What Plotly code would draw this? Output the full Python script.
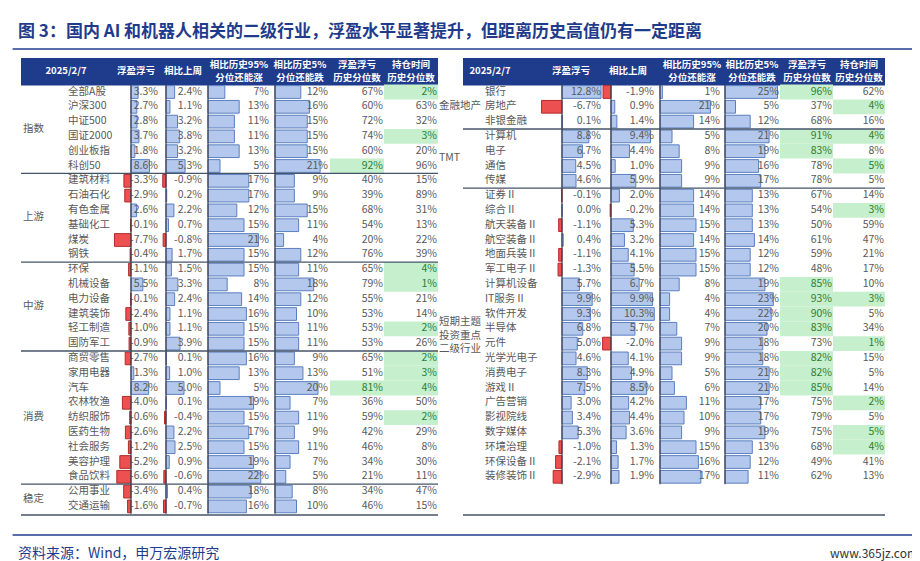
import plotly.graph_objects as go

W, H = 920, 561
ROW0, ROWH = 84, 14.8  # pixel y of first row, row height
FONT = "Noto Sans CJK SC"
NAVY = "#1f3c8c"
TXT = "#595959"

# ---------------- data ----------------
left_groups = [("指数", 6), ("上游", 6), ("中游", 6), ("消费", 9), ("稳定", 2)]
left_names = ["全部A股", "沪深300", "中证500", "国证2000", "创业板指", "科创50",
              "建筑材料", "石油石化", "有色金属", "基础化工", "煤炭", "钢铁",
              "环保", "机械设备", "电力设备", "建筑装饰", "轻工制造", "国防军工",
              "商贸零售", "家用电器", "汽车", "农林牧渔", "纺织服饰", "医药生物",
              "社会服务", "美容护理", "食品饮料", "公用事业", "交通运输"]
left_fy = [3.3, 2.7, 2.8, 3.7, 1.8, 8.6, -3.3, -2.9, 2.6, -0.1, -7.7, -0.4,
           -1.1, 5.5, -0.1, -2.4, -1.0, -0.9, -2.7, 1.3, 8.2, -4.0, -0.6, -2.6,
           -1.2, -5.2, -6.6, -3.4, -1.6]
left_wk = [2.4, 1.1, 3.2, 3.8, 3.2, 5.3, -0.9, 0.2, 2.2, 0.7, -0.8, 1.7,
           1.5, 3.3, 2.4, 1.1, 1.1, 3.9, 0.1, 1.0, 5.0, 0.1, -0.4, 2.2,
           2.5, 0.9, -0.6, 0.4, -0.7]
left_up = [7, 13, 11, 11, 13, 5, 17, 17, 12, 15, 21, 15, 15, 8, 14, 16, 15, 15,
           16, 13, 5, 19, 15, 17, 15, 19, 22, 18, 16]
left_dn = [12, 16, 15, 15, 15, 21, 9, 9, 15, 11, 4, 12, 11, 18, 12, 10, 11, 11,
           9, 13, 20, 7, 11, 9, 11, 7, 5, 8, 10]
left_fpct = [67, 60, 72, 74, 60, 92, 40, 39, 68, 54, 20, 76, 65, 79, 55, 53, 53, 53,
             65, 51, 81, 36, 59, 42, 46, 34, 21, 34, 46]
left_hpct = [2, 63, 32, 3, 20, 96, 15, 89, 31, 13, 22, 39, 4, 1, 21, 14, 2, 26,
             2, 3, 4, 50, 2, 29, 8, 30, 11, 47, 15]
left_hflag = [1, 0, 0, 1, 0, 0, 0, 0, 0, 0, 0, 0, 1, 1, 0, 0, 1, 0,
              1, 1, 1, 0, 1, 0, 0, 0, 0, 0, 0]

right_groups = [("金融地产", 3), ("TMT", 4), ("短期主题<br>投资重点<br>二级行业", 20)]
right_names = ["银行", "房地产", "非银金融", "计算机", "电子", "通信", "传媒",
               "证券Ⅱ", "综合Ⅱ", "航天装备Ⅱ", "航空装备Ⅱ", "地面兵装Ⅱ", "军工电子Ⅱ",
               "计算机设备", "IT服务Ⅱ", "软件开发", "半导体", "元件", "光学光电子",
               "消费电子", "游戏Ⅱ", "广告营销", "影视院线", "数字媒体", "环境治理",
               "环保设备Ⅱ", "装修装饰Ⅱ"]
right_fy = [12.8, -6.7, 0.1, 8.8, 6.7, 4.5, 4.6, -0.1, 0.0, -1.1, 0.4, -1.1, -1.3,
            5.7, 9.9, 9.3, 6.8, 5.0, 4.6, 8.3, 7.5, 3.0, 3.4, 5.3, -1.0, -2.1, -2.9]
right_wk = [-1.9, 0.9, 1.4, 9.4, 4.4, 1.0, 5.9, 2.0, -0.2, 5.3, 3.2, 4.1, 5.5,
            6.7, 9.9, 10.3, 5.7, -2.0, 4.1, 4.9, 8.5, 4.2, 4.4, 3.6, 1.3, 1.7, 1.9]
right_up = [1, 21, 14, 5, 8, 9, 9, 14, 14, 15, 14, 15, 15, 8, 4, 4, 7, 9, 9, 5, 6,
            11, 10, 9, 15, 16, 17]
right_dn = [25, 5, 12, 21, 19, 16, 17, 13, 13, 13, 14, 12, 12, 19, 23, 22, 20, 18,
            18, 21, 21, 17, 17, 19, 13, 12, 11]
right_fpct = [96, 37, 68, 91, 83, 78, 78, 67, 54, 50, 61, 59, 48, 85, 93, 90, 83, 73,
              82, 82, 85, 75, 79, 75, 68, 49, 62]
right_hpct = [62, 4, 16, 4, 8, 5, 5, 14, 3, 59, 47, 21, 17, 10, 3, 5, 34, 1, 15, 5,
              14, 2, 5, 5, 4, 41, 13]
right_hflag = [0, 1, 0, 1, 0, 1, 0, 0, 1, 0, 0, 0, 0, 0, 1, 0, 0, 1, 0, 0, 0,
               1, 0, 1, 1, 0, 0]

headers = ["2025/2/7", "浮盈浮亏", "相比上周", "相比历史95%<br>分位还能涨",
           "相比历史5%<br>分位还能跌", "浮盈浮亏<br>历史分位数", "持仓时间<br>历史分位数"]

# ---------------- layout geometry (pixels) ----------------
tables = [
    dict(names=left_names, groups=left_groups, fy=left_fy, wk=left_wk, up=left_up,
         dn=left_dn, fpct=left_fpct, hpct=left_hpct, hflag=left_hflag,
         x0=13, x1=430, gx=15, nx=60,
         zero=[123, 158, 200, 267], scale=[2.15, 3.6, 2.4, 2.15],
         tend=[150, 194, 261, 320], cells=[(322, 376), (376, 430)],
         hdr=[58, 128, 175, 231, 292, 349, 403]),
    dict(names=right_names, groups=right_groups, fy=right_fy, wk=right_wk, up=right_up,
         dn=right_dn, fpct=right_fpct, hpct=right_hpct, hflag=right_hflag,
         x0=455, x1=877, gx=431, nx=477,
         zero=[554, 603, 652, 717], scale=[3.05, 4.2, 2.4, 2.1],
         tend=[593, 646, 712, 771], cells=[(772, 825), (825, 877)],
         hdr=[482, 563, 620, 684, 744, 799, 851]),
]

fig = go.Figure()
layout_axes = {}
ax_count = [1]
text_traces = []


def new_axis(zero_px, px_per_unit):
    ax_count[0] += 1
    n = ax_count[0]
    layout_axes[f"xaxis{n}"] = dict(
        range=[-zero_px / px_per_unit, (W - zero_px) / px_per_unit],
        domain=[0, 1], overlaying="x", anchor="y", visible=False, fixedrange=True)
    return f"x{n}"


def ypx(p):
    return (p - ROW0) / ROWH


def txt(x, y, s, color=TXT, pos="middle left", size=10.5, bold=False):
    text_traces.append(dict(
        x=x, y=y, text=[f"<b>{v}</b>" if bold else v for v in s], mode="text",
        textposition=pos, textfont=dict(family=FONT, size=size, color=color),
        hoverinfo="skip", yaxis="y", showlegend=False, cliponaxis=False))


shapes = []
for t in tables:
    n = len(t["names"])
    rows = list(range(n))
    # header band
    shapes.append(dict(type="rect", xref="x", yref="y", x0=t["x0"], x1=t["x1"],
                       y0=ypx(50), y1=ypx(77.5), fillcolor=NAVY, line_width=0, layer="below"))
    txt(t["hdr"], [ypx(64)] * 7, headers, color="white", pos="middle center",
        size=9.5, bold=True)
    # group labels and separators
    start = 0
    for g, cnt in t["groups"]:
        txt([t["gx"]], [start + (cnt - 1) / 2], [g], pos="middle right", size=10.5)
        start += cnt
        sep = start - 0.5 if start < n else ypx(507)
        shapes.append(dict(type="line", xref="x", yref="y", x0=t["x0"], x1=t["x1"],
                           y0=sep, y1=sep, line=dict(color="#44546a", width=1.3)))
    txt([t["nx"]] * n, rows, t["names"], pos="middle right")

    # bar columns
    for key, z, s, te in zip(["fy", "wk", "up", "dn"], t["zero"], t["scale"], t["tend"]):
        ax = new_axis(z, s)
        vals = t[key]
        fig.add_trace(go.Bar(
            x=vals, y=rows, orientation="h", width=0.86, xaxis=ax, yaxis="y",
            marker=dict(color=["#ec5050" if v < 0 else "#b3c8ec" for v in vals],
                        line=dict(color=["#b52a2a" if v < 0 else "#5a7fc0" for v in vals],
                                  width=1)),
            hoverinfo="skip", showlegend=False))
        shapes.append(dict(type="line", xref=ax, yref="y", x0=0, x1=0, y0=-0.5,
                           y1=n - 0.5, line=dict(color="#3a3a4a", width=1.2)))
        txt([te] * n, rows, [f"{v:.1f}%" if key in ("fy", "wk") else f"{v}%" for v in vals],
            pos="middle left")

    # percentile columns with green highlight
    fhl = [1 if v >= 80 else 0 for v in t["fpct"]]
    for vals, flags, (c0, c1) in [(t["fpct"], fhl, t["cells"][0]),
                                  (t["hpct"], t["hflag"], t["cells"][1])]:
        ax = new_axis(c0, c1 - c0)
        fig.add_trace(go.Bar(
            x=flags, y=rows, orientation="h", width=1.0, xaxis=ax, yaxis="y",
            marker=dict(color="#c6efce", line_width=0), hoverinfo="skip",
            showlegend=False))
        txt([c1 - 1] * n, rows, [f"{v}%" for v in vals],
            color=["#2e7d32" if f else TXT for f in flags], pos="middle left")

# text layer on a pixel axis overlaid last, so it sits above all bars
ax_count[0] += 1
text_ax = f"x{ax_count[0]}"
layout_axes[f"xaxis{ax_count[0]}"] = dict(range=[0, W], domain=[0, 1], overlaying="x",
                                          anchor="y", visible=False, fixedrange=True)
for tr in text_traces:
    fig.add_trace(go.Scatter(xaxis=text_ax, **tr))

# title / footer
shapes.append(dict(type="line", xref="paper", yref="paper", x0=0.005, x1=0.995,
                   y0=1 - 41 / H, y1=1 - 41 / H, line=dict(color=NAVY, width=1.5)))
shapes.append(dict(type="line", xref="paper", yref="paper", x0=0.005, x1=0.995,
                   y0=1 - 527 / H, y1=1 - 527 / H, line=dict(color=NAVY, width=1.5)))

annotations = [
    dict(text="<b>图 3：国内 AI 和机器人相关的二级行业，浮盈水平显著提升，但距离历史高值仍有一定距离</b>",
         x=8 / W, y=1 - 21 / H, xref="paper", yref="paper", xanchor="left",
         yanchor="middle", showarrow=False, font=dict(family=FONT, size=17, color=NAVY)),
    dict(text="资料来源：Wind，申万宏源研究", x=8 / W, y=1 - 544 / H, xref="paper",
         yref="paper", xanchor="left", yanchor="middle", showarrow=False,
         font=dict(family=FONT, size=14, color=NAVY)),
    dict(text="www.365jz.com", x=912 / W, y=1 - 544 / H, xref="paper",
         yref="paper", xanchor="right", yanchor="middle", showarrow=False,
         font=dict(family=FONT, size=12, color="#333")),
]

fig.update_layout(
    width=W, height=H, margin=dict(l=0, r=0, t=0, b=0),
    plot_bgcolor="white", paper_bgcolor="white", barmode="overlay",
    xaxis=dict(range=[0, W], domain=[0, 1], visible=False, fixedrange=True),
    yaxis=dict(range=[ypx(H), ypx(0)], domain=[0, 1], visible=False, fixedrange=True),
    shapes=shapes, annotations=annotations, **layout_axes)

fig.write_html("out.html")
